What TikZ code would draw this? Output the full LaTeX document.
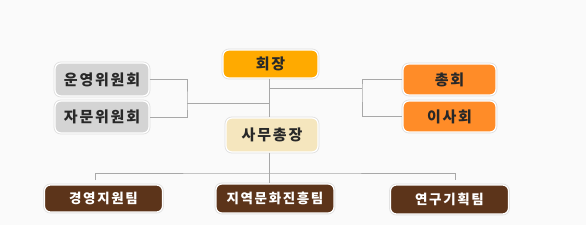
\documentclass[tikz,border=0pt]{standalone}
\usepackage{fontspec}
\usepackage{xcolor}
\newfontfamily\krfont[LetterSpace=12]{Noto Sans CJK KR}
\usetikzlibrary{positioning,calc}
\definecolor{bgc}{RGB}{250,250,250}
\definecolor{chair}{RGB}{255,170,0}
\definecolor{secgen}{RGB}{245,230,190}
\definecolor{assem}{RGB}{255,140,40}
\definecolor{comm}{RGB}{212,212,212}
\definecolor{team}{RGB}{92,52,26}
\definecolor{txt}{RGB}{40,40,40}
\definecolor{wire}{RGB}{168,168,168}

\begin{document}
\begin{tikzpicture}[x=1pt, y=-1pt,
    box/.style={rounded corners=6pt, fill=#1, draw=white, line width=1.2pt,
                preaction={draw=black!12, line width=2.8pt},
                font=\krfont\bfseries\fontsize{15}{16}\selectfont, text=txt,
                inner sep=0pt, align=center},
    teambox/.style={box=team, text=white, minimum width=118pt,
                    font=\krfont\bfseries\fontsize{13.5}{14}\selectfont},
    line/.style={draw=wire, line width=0.8pt}]

    \fill[bgc] (0,0) rectangle (586,225);
    \useasboundingbox (0,0) rectangle (586,225);

    % top: chairman and secretary general
    \node[box=chair, minimum width=95pt, minimum height=28pt] (hj) at (270.5,64) {회장};
    \node[box=secgen, minimum width=92pt, minimum height=34pt] (sg) at (272,135) {사무총장};

    % committees (left) and councils (right)
    \node[box=comm, minimum width=94pt, minimum height=33pt] (uy) at (102,79.5) {운영위원회};
    \node[box=comm, minimum width=94pt, minimum height=32pt] (jm) at (102,117) {자문위원회};
    \node[box=assem, minimum width=93pt, minimum height=31pt] (ch) at (449.5,79.5) {총회};
    \node[box=assem, minimum width=93pt, minimum height=31pt] (is) at (449.5,116.5) {이사회};

    % teams
    \node[teambox, minimum height=27pt] (t1) at (103.5,198.5) {경영지원팀};
    \node[teambox, minimum height=29pt] (t2) at (275,198.5) {지역문화진흥팀};
    \node[teambox, minimum height=29pt] (t3) at (449.5,199.5) {연구기획팀};

    % junctions
    \coordinate (jl) at (187,103);
    \coordinate (jr) at (362,88);
    \coordinate (jb) at (269,173);
    \coordinate (d1) at (95.5,180);
    \coordinate (d3) at (455,180);

    \draw[line] (hj.south -| jb) -- (sg.north -| jb);
    \draw[line] (sg.south -| jb) -- (t2.north -| jb);
    \draw[line] (uy.east) -| (jl) |- (jm.east);
    \draw[line] (jl) -- (jl -| jb);
    \draw[line] (jr -| jb) -- (jr);
    \draw[line] (ch.west) -| (jr) |- (is.west);
    \draw[line] (d1) |- (jb) -| (d3);
  \end{tikzpicture}
\end{document}
